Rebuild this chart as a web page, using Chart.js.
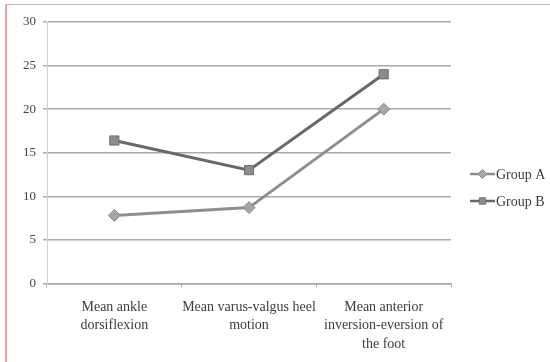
<!DOCTYPE html>
<html>
<head>
<meta charset="utf-8">
<script src="https://cdn.jsdelivr.net/npm/chart.js@4/dist/chart.umd.min.js"></script>
<style>
  html, body { margin: 0; padding: 0; background: #fff; }
  #wrap { position: absolute; left: 0; top: 0; width: 550px; height: 362px; }
  #frame {
    position: absolute; left: 5px; top: 4px; width: 545px; height: 358px;
    border-left: 2px solid #e8a4a4; border-top: 1px solid #c9b3ba;
    pointer-events: none; box-sizing: border-box;
  }
</style>
</head>
<body>
<div id="wrap"><canvas id="c" width="550" height="362"></canvas></div>
<div id="frame"></div>
<script>
const categories = [
  ['Mean ankle', 'dorsiflexion'],
  ['Mean varus-valgus heel', 'motion'],
  ['Mean anterior', 'inversion-eversion of', 'the foot']
];
const groupA = [7.8, 8.7, 20.0];
const groupB = [16.4, 13.0, 24.0];
const yTicks = [0, 5, 10, 15, 20, 25, 30];

const SERIF = '"Liberation Serif", "DejaVu Serif", serif';

// Legend drawn at the right: a short line with the series marker, then the name
const sideLegend = {
  id: 'sideLegend',
  afterDraw(chart) {
    const ctx = chart.ctx;
    const area = chart.chartArea;
    const x0 = area.right + 19;
    const rows = [174, 201];
    chart.data.datasets.forEach((ds, i) => {
      const y = rows[i];
      ctx.save();
      ctx.strokeStyle = ds.borderColor;
      ctx.lineWidth = 2.5;
      ctx.beginPath();
      ctx.moveTo(x0, y);
      ctx.lineTo(x0 + 25, y);
      ctx.stroke();
      ctx.fillStyle = ds.pointBackgroundColor;
      ctx.strokeStyle = ds.pointBorderColor;
      ctx.lineWidth = 1;
      Chart.helpers.drawPoint(ctx, { pointStyle: ds.pointStyle, radius: 4.5, borderWidth: 1 }, x0 + 12.5, y);
      ctx.fillStyle = '#3c3c3c';
      ctx.font = '14px ' + SERIF;
      ctx.textBaseline = 'middle';
      ctx.fillText(ds.label, x0 + 26, y + 1);
      ctx.restore();
    });
  }
};

new Chart(document.getElementById('c'), {
  type: 'line',
  data: {
    labels: categories,
    datasets: [
      {
        label: 'Group A',
        data: groupA,
        borderColor: '#8e8e8e',
        borderWidth: 3,
        pointStyle: 'rectRot',
        pointRadius: 6,
        pointBackgroundColor: '#a6a6a6',
        pointBorderColor: '#8a8a8a',
        pointBorderWidth: 1,
        tension: 0
      },
      {
        label: 'Group B',
        data: groupB,
        borderColor: '#686868',
        borderWidth: 3,
        pointStyle: 'rect',
        pointRadius: 6.5,
        pointBackgroundColor: '#8c8c8c',
        pointBorderColor: '#6e6e6e',
        pointBorderWidth: 1,
        tension: 0
      }
    ]
  },
  options: {
    responsive: false,
    animation: false,
    devicePixelRatio: 1,
    layout: { padding: { left: 16, top: 22, right: 99, bottom: -2 } },
    plugins: { legend: { display: false }, tooltip: { enabled: false } },
    scales: {
      x: {
        offset: true,
        grid: { offset: true, drawOnChartArea: false, drawTicks: true, tickLength: 4, color: '#b0b0b0' },
        border: { color: '#a8a8a8', width: 1.5 },
        ticks: {
          color: '#3c3c3c',
          font: { family: SERIF, size: 14, lineHeight: 1.3 },
          padding: 11, maxRotation: 0, autoSkip: false
        }
      },
      y: {
        min: 0,
        max: 30,
        afterBuildTicks(axis) { axis.ticks = yTicks.map(v => ({ value: v })); },
        grid: { color: '#aaaaaa', lineWidth: 1.5, tickLength: 4 },
        border: { color: '#d0d0d0', width: 1 },
        ticks: { color: '#444444', font: { family: SERIF, size: 13 }, padding: 7 }
      }
    }
  },
  plugins: [sideLegend]
});
</script>
</body>
</html>
